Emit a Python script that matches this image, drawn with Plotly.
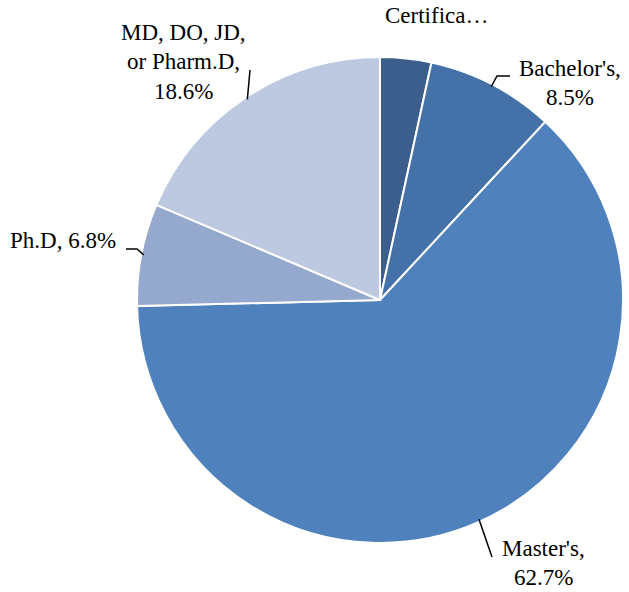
import math
import plotly.graph_objects as go

categories = ["Certificate", "Bachelor's", "Master's", "Ph.D", "MD, DO, JD, or Pharm.D"]
values = [3.4, 8.5, 62.7, 6.8, 18.6]
label_lines = [["Certifica…"], ["Bachelor's,", "8.5%"], ["Master's,", "62.7%"], ["Ph.D, 6.8%"],
               ["MD, DO, JD,", "or Pharm.D,", "18.6%"]]
colors = ["#3b5e8c", "#4472a8", "#4f81bd", "#95a9cf", "#bcc9e1"]

# layout (pixels): label block centres and leader-line elbows
W, H = 629, 592
cx, cy, r = 380, 300, 242.5
r_dom = 243
label_pos = [(436, 16), (570, 83), (543, 563), (63, 241), (183, 62)]
leader = [None, [(497, 76), (510, 76)], [(492, 557)], [(137, 249), (126, 249)], [(250, 70)]]
line_gap = 29.5
font = dict(family="Liberation Serif", size=23, color="black")

fig = go.Figure(go.Pie(
    labels=categories,
    values=values,
    textinfo="none",
    sort=False,
    direction="clockwise",
    rotation=0,
    marker=dict(colors=colors, line=dict(color="white", width=2)),
    domain=dict(x=[(cx - r_dom) / W, (cx + r_dom) / W], y=[(H - cy - r_dom) / H, (H - cy + r_dom) / H]),
    showlegend=False,
    hoverinfo="label+percent",
))

px = lambda x: x / W
py = lambda y: 1 - y / H

total = sum(values)
cum = 0.0
annotations, shapes = [], []
for i, v in enumerate(values):
    mid = (cum + v / 2) / total * 2 * math.pi
    cum += v
    ax, ay = cx + (r - 2) * math.sin(mid), cy - (r - 2) * math.cos(mid)
    if leader[i]:
        pts = [(ax, ay)] + leader[i]
        path = "M " + " L ".join(f"{px(x):.5f},{py(y):.5f}" for x, y in pts)
        shapes.append(dict(type="path", path=path, xref="paper", yref="paper",
                           line=dict(color="black", width=1.5)))
    lx, ly = label_pos[i]
    n = len(label_lines[i])
    for j, t in enumerate(label_lines[i]):
        yy = ly + (j - (n - 1) / 2) * line_gap
        annotations.append(dict(text=t, x=px(lx), y=py(yy), xref="paper", yref="paper",
                                xanchor="center", yanchor="middle", showarrow=False, font=font))

fig.update_layout(
    width=W, height=H,
    margin=dict(l=0, r=0, t=0, b=0),
    paper_bgcolor="white",
    plot_bgcolor="white",
    annotations=annotations,
    shapes=shapes,
)
fig.write_html("out.html", config={"displayModeBar": False},
               post_script="document.body.style.margin='0px';")
